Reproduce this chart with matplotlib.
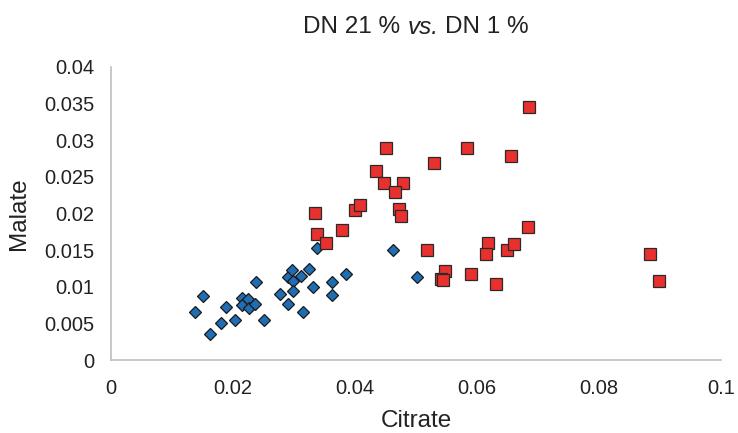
import numpy as np
import matplotlib
matplotlib.use("Agg")
import matplotlib.pyplot as plt

plt.rcParams['font.family'] = ['Liberation Sans', 'DejaVu Sans']

# DN 1 % (blue diamonds)
dn1_citrate = [0.0138, 0.0151, 0.0163, 0.0180, 0.0189, 0.0204, 0.0214, 0.0214,
               0.0225, 0.0227, 0.0236, 0.0237, 0.0251, 0.0277, 0.0290, 0.0290,
               0.0296, 0.0298, 0.0299, 0.0312, 0.0314, 0.0325, 0.0331, 0.0337,
               0.0363, 0.0362, 0.0386, 0.0463, 0.0502]
dn1_malate = [0.0065, 0.0088, 0.0036, 0.0051, 0.0072, 0.0055, 0.0084, 0.0075,
              0.0083, 0.0071, 0.0076, 0.0107, 0.0055, 0.0090, 0.0076, 0.0113,
              0.0123, 0.0108, 0.0094, 0.0115, 0.0065, 0.0124, 0.0100, 0.0153,
              0.0107, 0.0089, 0.0117, 0.0150, 0.0113]

# DN 21 % (red squares)
dn21_citrate = [0.0451, 0.0434, 0.0448, 0.0479, 0.0465, 0.0472, 0.0475, 0.0400,
                0.0409, 0.0334, 0.0337, 0.0353, 0.0379, 0.0686, 0.0583, 0.0655,
                0.0530, 0.0684, 0.0518, 0.0618, 0.0615, 0.0649, 0.0661, 0.0548,
                0.0541, 0.0545, 0.0590, 0.0631, 0.0884, 0.0898]
dn21_malate = [0.0290, 0.0258, 0.0241, 0.0242, 0.0230, 0.0206, 0.0196, 0.0205,
               0.0212, 0.0200, 0.0172, 0.0160, 0.0177, 0.0345, 0.0290, 0.0279,
               0.0269, 0.0181, 0.0150, 0.0160, 0.0145, 0.0150, 0.0158, 0.0121,
               0.0110, 0.0109, 0.0118, 0.0104, 0.0145, 0.0108]

title_parts = [('DN 21 %', 'normal'), ('vs.', 'italic'), ('DN 1 %', 'normal')]

fig = plt.figure(figsize=(7.38, 4.33), dpi=100)
ax = fig.add_axes([111 / 738, 73 / 433, 610 / 738, 293 / 433])

ax.plot(dn1_citrate, dn1_malate, linestyle='none', marker='D', markersize=5.8,
        markerfacecolor='#1F6EB4', markeredgecolor='#1a1a1a', markeredgewidth=0.9)
ax.plot(dn21_citrate, dn21_malate, linestyle='none', marker='s', markersize=8,
        markerfacecolor='#E8302E', markeredgecolor='#2a2a2a', markeredgewidth=0.9)

ax.set_xlim(0, 0.1)
ax.set_ylim(0, 0.04)
ax.set_xticks(np.arange(0, 0.1001, 0.02))
ax.set_xticklabels(['0', '0.02', '0.04', '0.06', '0.08', '0.1'])
ax.set_yticks(np.arange(0, 0.04001, 0.005))
ax.set_yticklabels(['0', '0.005', '0.01', '0.015', '0.02', '0.025', '0.03', '0.035', '0.04'])

for side in ['top', 'right']:
    ax.spines[side].set_visible(False)
for side in ['left', 'bottom']:
    ax.spines[side].set_color('#BFBFBF')
    ax.spines[side].set_linewidth(1.2)

ax.tick_params(axis='x', length=0, pad=14, labelsize=14.5, colors='#222222')
ax.tick_params(axis='y', length=0, pad=12, labelsize=14.5, colors='#222222')

ax.set_xlabel('Citrate', fontsize=17.5, color='#222222', labelpad=8)
ax.set_ylabel('Malate', fontsize=17.5, color='#222222', labelpad=10)

# title with italic "vs." built from pieces
renderer = fig.canvas.get_renderer()
probe1 = fig.text(0, 0, 'a a', fontsize=17.5)
probe2 = fig.text(0, 0, 'aa', fontsize=17.5)
space = probe1.get_window_extent(renderer).width - probe2.get_window_extent(renderer).width
probe1.remove()
probe2.remove()

pieces = []
for s, style in title_parts:
    t = fig.text(0, 0, s, fontsize=17.5, style=style, color='#222222', va='center')
    pieces.append(t)
widths = [t.get_window_extent(renderer).width for t in pieces]
total = sum(widths) + space * (len(pieces) - 1)
x0 = (111 + 721) / 2 - total / 2
for t, w in zip(pieces, widths):
    t.set_position((x0 / 738, 1 - 27 / 433))
    x0 += w + space

fig.savefig('out.png', dpi=100)
